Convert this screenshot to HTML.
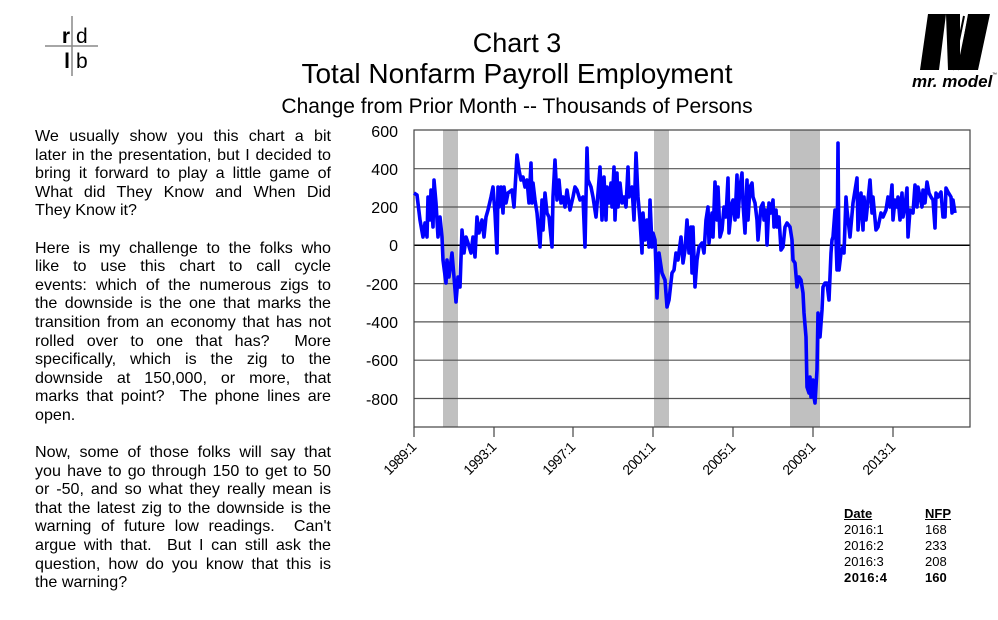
<!DOCTYPE html>
<html><head><meta charset="utf-8"><style>
body{margin:0;background:#fff;width:998px;height:620px;overflow:hidden;position:relative;font-family:"Liberation Sans",Arial,sans-serif;color:#000}
.t{position:absolute;left:0;width:1034px;text-align:center}
.tx{position:absolute;left:35px;width:296px;font-size:16.1px;line-height:18.6px}
.tx div{text-align:justify;text-align-last:justify;white-space:nowrap;height:18.6px}
.tx div.l{text-align-last:left}
.tb{position:absolute;font-size:13px;line-height:16px}
</style></head><body>
<div class="t" style="top:28px;font-size:27px">Chart 3</div>
<div class="t" style="top:58px;font-size:28px">Total Nonfarm Payroll Employment</div>
<div class="t" style="top:95px;font-size:21px">Change from Prior Month -- Thousands of Persons</div>

<svg style="position:absolute;left:40px;top:16px" width="70" height="64">
<line x1="32" y1="0" x2="32" y2="60" stroke="#888" stroke-width="1.5"/>
<line x1="5" y1="30" x2="58" y2="30" stroke="#888" stroke-width="1.5"/>
<text x="30" y="27" font-size="21" font-weight="bold" text-anchor="end" font-family="Liberation Sans">r</text>
<text x="36" y="27" font-size="21" font-family="Liberation Sans">d</text>
<text x="30" y="52" font-size="21" font-weight="bold" text-anchor="end" font-family="Liberation Sans">l</text>
<text x="36" y="52" font-size="21" font-family="Liberation Sans">b</text>
</svg>

<svg style="position:absolute;left:908px;top:14px" width="90" height="80">
<polygon points="20,0 38,0 31,56 12,56" fill="#000"/>
<polygon points="38,0 52,0 52,56 40,56" fill="#000"/>
<polygon points="60,0 82,0 70,56 50,56" fill="#000"/>
<line x1="56" y1="2" x2="45" y2="56" stroke="#000" stroke-width="2"/>
<line x1="61" y1="2" x2="50" y2="56" stroke="#000" stroke-width="2"/>
<text x="4" y="73" font-size="17" font-style="italic" font-weight="bold" font-family="Liberation Sans">mr. model</text>
<text x="84" y="62" font-size="5" font-family="Liberation Sans">™</text>
</svg>

<div class="tx" style="top:127px">
<div>We usually show you this chart a bit</div>
<div>later in the presentation, but I decided to</div>
<div>bring it forward to play a little game of</div>
<div>What did They Know and When Did</div>
<div class="l">They Know it?</div>
<div></div>
<div>Here is my challenge to the folks who</div>
<div>like to use this chart to call cycle</div>
<div>events: which of the numerous zigs to</div>
<div>the downside is the one that marks the</div>
<div>transition from an economy that has not</div>
<div>rolled over to one that has?&nbsp; More</div>
<div>specifically, which is the zig to the</div>
<div>downside at 150,000, or more, that</div>
<div>marks that point?&nbsp; The phone lines are</div>
<div class="l">open.</div>
<div></div>
<div>Now, some of those folks will say that</div>
<div>you have to go through 150 to get to 50</div>
<div>or -50, and so what they really mean is</div>
<div>that the latest zig to the downside is the</div>
<div>warning of future low readings.&nbsp; Can't</div>
<div>argue with that.&nbsp; But I can still ask the</div>
<div>question, how do you know that this is</div>
<div class="l">the warning?</div>
</div>

<svg style="position:absolute;left:0;top:0" width="998" height="620">
<rect x="443" y="130" width="15" height="297" fill="#c0c0c0"/>
<rect x="654" y="130" width="15" height="297" fill="#c0c0c0"/>
<rect x="790" y="130" width="30" height="297" fill="#c0c0c0"/>
<g stroke="#555" stroke-width="1.2">
<line x1="414" y1="168.7" x2="970" y2="168.7"/>
<line x1="414" y1="207" x2="970" y2="207"/>
<line x1="414" y1="283.6" x2="970" y2="283.6"/>
<line x1="414" y1="321.9" x2="970" y2="321.9"/>
<line x1="414" y1="360.2" x2="970" y2="360.2"/>
<line x1="414" y1="398.5" x2="970" y2="398.5"/>
</g>
<line x1="414" y1="245.3" x2="970" y2="245.3" stroke="#000" stroke-width="1.5"/>
<rect x="414" y="130" width="556" height="297" fill="none" stroke="#444" stroke-width="1.2"/>
<g stroke="#444" stroke-width="1.2">
<line x1="414" y1="427" x2="414" y2="437"/><line x1="494" y1="427" x2="494" y2="437"/><line x1="573" y1="427" x2="573" y2="437"/><line x1="653" y1="427" x2="653" y2="437"/><line x1="733" y1="427" x2="733" y2="437"/><line x1="813" y1="427" x2="813" y2="437"/><line x1="893" y1="427" x2="893" y2="437"/>
</g>
<g font-family="Liberation Sans" font-size="16" text-anchor="end">
<text x="398" y="137">600</text><text x="398" y="175">400</text><text x="398" y="213">200</text><text x="398" y="251">0</text><text x="398" y="290">-200</text><text x="398" y="328">-400</text><text x="398" y="366">-600</text><text x="398" y="405">-800</text>
</g>
<g font-family="Liberation Sans" font-size="14" text-anchor="end" letter-spacing="-0.6">
<text transform="translate(417,448) rotate(-45)">1989:1</text>
<text transform="translate(497,448) rotate(-45)">1993:1</text>
<text transform="translate(576,448) rotate(-45)">1997:1</text>
<text transform="translate(656,448) rotate(-45)">2001:1</text>
<text transform="translate(736,448) rotate(-45)">2005:1</text>
<text transform="translate(816,448) rotate(-45)">2009:1</text>
<text transform="translate(896,448) rotate(-45)">2013:1</text>
</g>
<polyline fill="none" stroke="#0000ff" stroke-width="3.6" stroke-linejoin="round" points="414,193 417,195 420,220 423,237 425,223 427,237 428,197 430,220 431,190 433,227 434,180 436,203 438,237 440,217 442,237 443,260 446,283 447,260 449,277 452,253 454,277 456,302 458,277 460,287 462,230 464,253 466,237 468,243 471,253 473,237 475,257 477,217 479,233 482,220 484,237 486,217 488,210 491,197 493,187 495,213 497,253 498,187 499,207 501,187 503,213 504,187 506,203 508,193 512,190 514,207 517,155 519,170 521,180 523,177 525,187 527,180 529,203 531,163 532,203 533,183 535,200 537,213 540,247 542,200 543,230 545,193 547,213 549,217 552,247 553,197 555,160 557,200 559,180 561,203 563,197 565,207 567,190 570,210 573,197 575,187 577,190 580,200 583,197 585,247 587,148 588,180 591,187 593,197 596,217 598,193 600,167 602,220 604,177 606,220 607,187 609,203 611,183 612,207 614,167 615,220 617,173 618,207 620,183 622,203 624,197 626,207 628,167 629,197 632,187 634,220 636,153 638,197 640,220 642,253 643,213 645,240 647,220 649,247 650,200 652,247 653,233 655,240 657,298 659,253 662,273 665,280 667,307 669,300 672,273 674,270 676,253 678,260 681,237 683,263 685,250 687,220 689,253 691,227 692,273 693,227 695,287 697,260 699,247 702,243 704,253 706,220 708,207 709,243 712,213 713,237 715,182 717,220 718,187 720,237 722,230 724,207 726,217 728,178 729,233 732,203 733,200 735,220 737,175 738,217 740,187 742,173 743,203 745,233 747,180 748,220 750,187 752,183 753,197 755,203 757,220 758,240 761,207 763,203 764,220 766,210 767,245 769,203 771,213 773,200 774,227 776,210 777,227 779,217 781,250 783,247 785,227 787,223 790,227 792,240 793,260 795,263 797,287 799,277 801,280 803,293 804,313 806,337 807,387 809,393 810,377 811,397 813,380 814,397 815,403 817,370 818,313 820,337 822,310 823,287 825,283 827,283 829,300 831,253 832,240 833,237 835,210 837,270 838,143 839,270 841,253 843,247 844,253 846,197 847,210 850,237 853,203 857,178 858,230 861,193 863,230 864,197 866,220 868,200 870,180 872,213 873,197 876,230 878,227 881,213 883,217 886,210 888,197 890,207 892,185 893,220 895,200 897,207 898,197 900,220 902,193 903,217 905,207 907,188 908,237 910,210 913,213 915,185 917,207 918,187 920,197 922,207 923,190 925,203 927,182 929,193 931,197 933,200 935,228 936,193 938,197 941,192 943,217 945,217 946,188 948,192 951,197 952,213 953,200 955,213"/>
</svg>

<div class="tb" style="left:844px;top:506px;font-weight:bold;text-decoration:underline">Date</div>
<div class="tb" style="left:925px;top:506px;font-weight:bold;text-decoration:underline">NFP</div>
<div class="tb" style="left:844px;top:522px">2016:1<br>2016:2<br>2016:3<br><b style="letter-spacing:0.5px">2016:4</b></div>
<div class="tb" style="left:925px;top:522px">168<br>233<br>208<br><b>160</b></div>
</body></html>
